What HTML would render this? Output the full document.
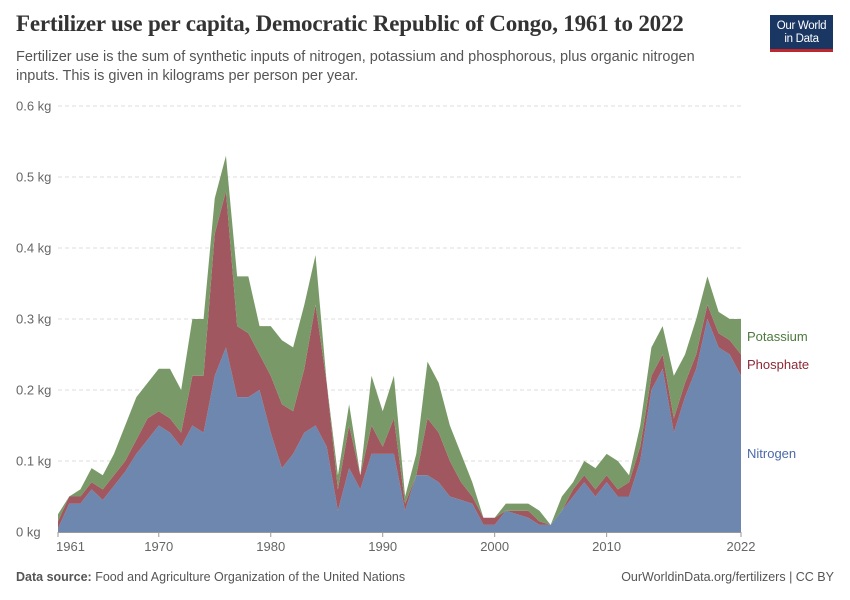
<!DOCTYPE html>
<html><head><meta charset="utf-8"><style>
body{margin:0;width:850px;height:600px;background:#fff;font-family:"Liberation Sans",sans-serif;position:relative;overflow:hidden}
.t{position:absolute;white-space:nowrap}
</style></head><body>
<div class="t" style="left:16px;top:11px;font-family:'Liberation Serif',serif;font-weight:bold;font-size:23px;color:#333;letter-spacing:-0.2px">Fertilizer use per capita, Democratic Republic of Congo, 1961 to 2022</div>
<div class="t" style="left:16px;top:48px;font-size:14.5px;line-height:19px;color:#555">Fertilizer use is the sum of synthetic inputs of nitrogen, potassium and phosphorous, plus organic nitrogen<br>inputs. This is given in kilograms per person per year.</div>
<div style="position:absolute;left:770px;top:15px;width:63px;height:37px;background:#1a3763;border-bottom:3px solid #c0272d;box-sizing:border-box;color:#fff;font-size:11.5px;line-height:13px;text-align:center;padding-top:5px;letter-spacing:-0.3px">Our World<br>in Data</div>
<svg id="chart" width="850" height="600" style="position:absolute;left:0;top:0"></svg>
<div class="t" style="left:16px;top:570px;font-size:12.5px;color:#555"><b>Data source:</b> Food and Agriculture Organization of the United Nations</div>
<div class="t" style="right:16px;top:570px;font-size:12.5px;color:#555">OurWorldinData.org/fertilizers | CC BY</div>
<script>
const years=[];for(let y=1961;y<=2022;y++)years.push(y);
const nitrogen=[.005,.04,.04,.06,.045,.065,.085,.11,.13,.15,
.14,.12,.15,.14,.22,.26,.19,.19,.20,.14,
.09,.11,.14,.15,.12,.03,.09,.06,.11,.11,
.11,.03,.08,.08,.07,.05,.045,.04,.01,.01,
.03,.025,.02,.01,.01,.03,.05,.07,.05,.07,
.05,.05,.10,.20,.23,.14,.19,.23,.30,.26,
.25,.22];
const phosphate=[.01,.01,.01,.01,.015,.015,.015,.02,.03,.02,
.02,.02,.07,.08,.20,.22,.10,.09,.05,.08,
.09,.06,.09,.17,.09,.03,.06,.02,.04,.01,
.05,.01,0,.08,.07,.05,.025,.01,.01,.01,
0,.005,.01,.005,0,0,.01,.01,.01,.01,
.01,.02,.02,.02,.02,.02,.02,.02,.02,.02,
.02,.03];
const potassium=[.01,0,.01,.02,.02,.03,.05,.06,.05,.06,
.07,.06,.08,.08,.05,.05,.07,.08,.04,.07,
.09,.09,.09,.07,0,.02,.03,0,.07,.05,
.06,.01,.03,.08,.07,.05,.04,.02,0,0,
.01,.01,.01,.015,0,.02,.01,.02,.03,.03,
.04,.01,.03,.04,.04,.06,.04,.05,.04,.03,
.03,.05];
const yTicks=[0,0.1,0.2,0.3,0.4,0.5,0.6];
const xTicks=[1961,1970,1980,1990,2000,2010,2022];
const NS='http://www.w3.org/2000/svg',svg=document.getElementById('chart');
const X0=58,X1=741,Y0=532,Y1=106;
const x=y=>X0+(y-1961)/(2022-1961)*(X1-X0);
const yS=v=>Y0-v/0.6*(Y0-Y1);
function el(t,a){const e=document.createElementNS(NS,t);for(const k in a)e.setAttribute(k,a[k]);svg.appendChild(e);return e;}
yTicks.forEach(v=>{
 if(v>0){const g=el('line',{x1:X0,x2:X1,y1:yS(v),y2:yS(v),stroke:'#ddd','stroke-dasharray':'4,3'});
 
 }
 const t=el('text',{x:16,y:yS(v)+4.5,'font-size':13,fill:'#666','font-family':'Liberation Sans'});
 t.textContent=v===0?'0 kg':v+' kg';
 
 
});
const series=[['nitrogen',nitrogen,'#6d87ae'],['phosphate',phosphate,'#a0575f'],['potassium',potassium,'#799a68']];
const base=years.map(()=>0);
series.forEach(([n,vals,c])=>{
 const top=base.map((b,i)=>b+vals[i]);
 let d='M'+years.map((y,i)=>x(y)+','+yS(top[i])).join('L');
 for(let i=years.length-1;i>=0;i--)d+='L'+x(years[i])+','+yS(base[i]);
 d+='Z';
 const p=el('path',{d:d,fill:c});
 
 
 top.forEach((v,i)=>base[i]=v);
});
const ax=el('line',{x1:X0,x2:X1,y1:Y0+0.5,y2:Y0+0.5,stroke:'#999'});


xTicks.forEach(yr=>{
 const tk=el('line',{x1:x(yr),x2:x(yr),y1:Y0,y2:Y0+5,stroke:'#999'});
 
 
 const t=el('text',{x:x(yr),y:Y0+19,'font-size':13,fill:'#666','text-anchor':yr===1961?'start':'middle','font-family':'Liberation Sans'});
 if(yr===1961)t.setAttribute('x',x(yr)-2);
 t.textContent=yr;
 
 
});
[['Potassium',341,'#4c7a3d'],['Phosphate',369,'#8b2a36'],['Nitrogen',458,'#4a6aa8']].forEach(([n,yy,c])=>{
 const t=el('text',{x:747,y:yy,'font-size':13,fill:c,'font-family':'Liberation Sans'});
 t.textContent=n;
 
 
});
</script>
</body></html>
